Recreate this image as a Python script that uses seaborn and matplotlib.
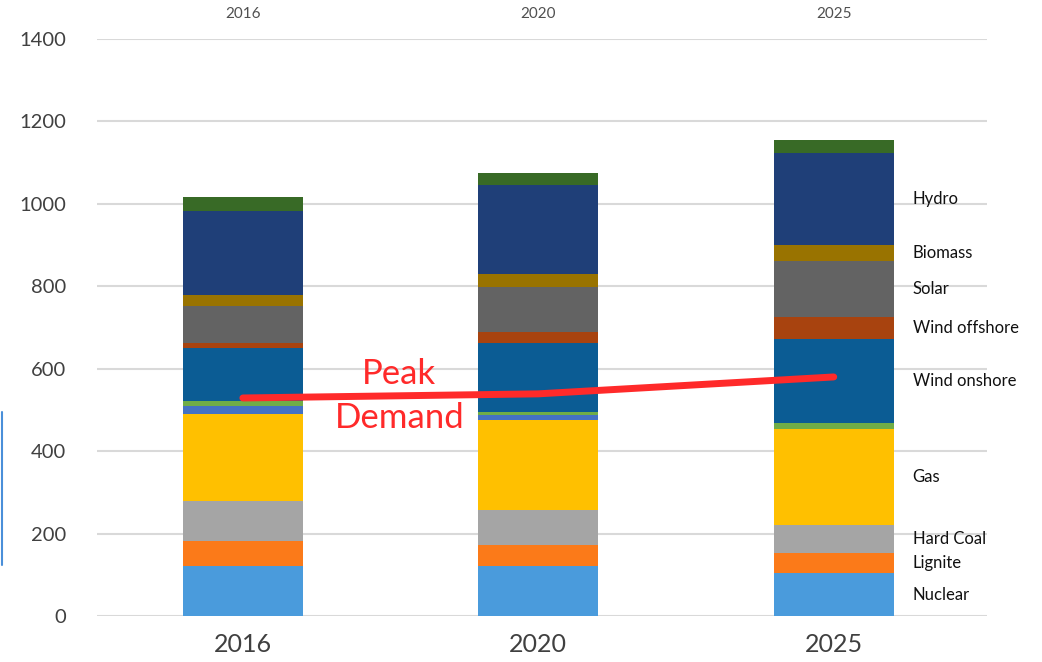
import matplotlib
matplotlib.use('Agg')
from matplotlib import pyplot as plt
from matplotlib.lines import Line2D
import seaborn as sns
import pandas as pd
import numpy as np

years = ['2016', '2020', '2025']
sources = ['Nuclear', 'Lignite', 'Hard Coal', 'Gas', 'Oil', 'Other',
           'Wind onshore', 'Wind offshore', 'Solar', 'Biomass', 'Hydro', 'Other RES']
nuclear = [121, 121, 104]
lignite = [62, 51, 50]
hard_coal = [97, 85, 67]
gas = [209, 219, 232]
oil = [21, 11, 0]
other = [12, 7, 15]
wind_onshore = [129, 168, 205]
wind_offshore = [12, 26, 52]
solar = [89, 111, 137]
biomass = [27, 31, 37]
hydro = [204, 216, 225]
other_res = [33, 30, 31]
peak_demand = [529, 539, 580]

colors = ['#4a9bdc', '#fb7a19', '#a5a5a5', '#ffc000', '#4472c4', '#70ad47',
          '#0b5c94', '#a8430f', '#636363', '#997300', '#1f3f78', '#386a26']
labelled = ['Hydro', 'Biomass', 'Solar', 'Wind offshore', 'Wind onshore',
            'Gas', 'Hard Coal', 'Lignite', 'Nuclear']

df = pd.DataFrame([nuclear, lignite, hard_coal, gas, oil, other, wind_onshore,
                   wind_offshore, solar, biomass, hydro, other_res],
                  index=sources, columns=years)
cum = df.cumsum()

sns.set_style('white')
plt.rcParams['font.family'] = ['Lato', 'DejaVu Sans']

fig = plt.figure(figsize=(10.42, 6.62), dpi=100)
ax = fig.add_axes([0.093, 0.0695, 0.854, 0.8716])

# stacked bars: draw cumulative totals from the top layer down
for src, col in reversed(list(zip(sources, colors))):
    sns.barplot(x=years, y=cum.loc[src].values, color=col, width=0.406,
                saturation=1, linewidth=0, ax=ax, zorder=2)

sns.lineplot(x=[0, 1, 2], y=peak_demand, color='#ff2a2a', linewidth=5,
             solid_capstyle='round', ax=ax, zorder=5)
ax.text(0.53, 533, 'Peak\nDemand', color='#ff2a2a', fontsize=25,
        ha='center', va='center', linespacing=1.45, zorder=6)

# labels next to the last bar
for src in labelled:
    mid = cum.loc[src, '2025'] - df.loc[src, '2025'] / 2
    ax.text(2.267, mid, src, fontsize=12, color='#111111', va='center', ha='left')

ax.set_ylim(0, 1400)
ax.set_xlim(-0.494, 2.518)
ax.set_yticks(range(0, 1401, 200))
ax.yaxis.grid(True, color='#d9d9d9', linewidth=1.5)
ax.set_axisbelow(True)
for s in ax.spines.values():
    s.set_visible(False)
ax.tick_params(axis='y', labelsize=14.5, labelcolor='#404040', length=0, pad=22)
ax.tick_params(axis='x', labelsize=18, labelcolor='#404040', length=0, pad=12)
ax.set_xlabel('')
ax.set_ylabel('')

top = ax.secondary_xaxis('top')
top.set_xticks([0, 1, 2])
top.set_xticklabels(years)
top.tick_params(labelsize=11, labelcolor='#505050', length=0, pad=13)
for s in top.spines.values():
    s.set_visible(False)

fig.add_artist(Line2D([0.0015, 0.0015], [1 - 412 / 662, 1 - 565 / 662],
                      color='#4a8fd9', linewidth=1.5, transform=fig.transFigure))

fig.savefig('out.png', dpi=100)
